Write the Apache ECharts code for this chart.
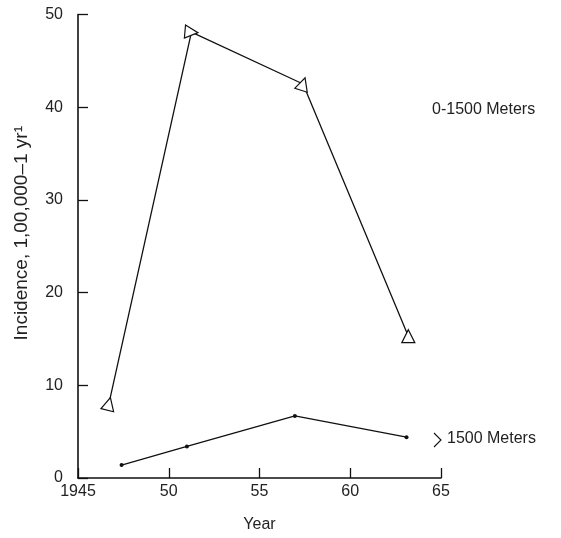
<!DOCTYPE html>
<html>
<head>
<meta charset="utf-8">
<script src="https://cdn.jsdelivr.net/npm/echarts@6/dist/echarts.min.js"></script>
<style>
  html, body { margin: 0; padding: 0; background: #fff; }
  #chart { width: 561px; height: 538px; }
</style>
</head>
<body>
<div id="chart"></div>
<script>
// Data
const lowYears = [1946.7, 1951.25, 1957.4, 1963.2];
const lowValues = [8.0, 48.1, 42.5, 15.3];
const highYears = [1947.4, 1951.0, 1956.95, 1963.1];
const highValues = [1.4, 3.4, 6.7, 4.4];
const xTicks = [1945, 1950, 1955, 1960, 1965];
const yTicks = [0, 10, 20, 30, 40, 50];
const lowLabel = '0-1500 Meters';
const highLabel = '1500 Meters';

const markerRotate = [-14, -95, -18, 0]; // style only

const chart = echarts.init(document.getElementById('chart'), null, { renderer: 'canvas' });
const textColor = '#222';
const lineColor = '#111';
const font = 'Liberation Sans, Arial, Helvetica, sans-serif';

const option = {
  animation: false,
  backgroundColor: '#fff',
  grid: { left: 78, right: 120, top: 14.5, bottom: 59, containLabel: false },
  xAxis: {
    type: 'value', min: xTicks[0], max: xTicks[xTicks.length - 1], interval: 5,
    name: 'Year', nameLocation: 'middle', nameGap: 39,
    nameTextStyle: { color: textColor, fontSize: 16, fontFamily: font },
    axisLine: { onZero: false, lineStyle: { color: lineColor, width: 1.6 } },
    axisTick: { inside: true, length: 10, lineStyle: { color: lineColor, width: 1.3 } },
    axisLabel: {
      color: textColor, fontSize: 16, fontFamily: font, margin: 6,
      formatter: v => (v === xTicks[0] ? String(v) : String(v).slice(2))
    },
    splitLine: { show: false }
  },
  yAxis: {
    type: 'value', min: yTicks[0], max: yTicks[yTicks.length - 1], interval: 10,
    name: 'Incidence, 1,00,000\u20131 yr\u00B9', nameLocation: 'middle', nameGap: 47,
    nameTextStyle: { color: textColor, fontSize: 19, fontFamily: font, padding: [0, 0, 0, 26] },
    axisLine: { show: true, lineStyle: { color: lineColor, width: 1.6 } },
    axisTick: { show: true, inside: true, length: 10, lineStyle: { color: lineColor, width: 1.3 } },
    axisLabel: { color: textColor, fontSize: 16, fontFamily: font, margin: 15 },
    splitLine: { show: false }
  },
  series: [
    {
      type: 'line',
      data: lowYears.map((x, i) => [x, lowValues[i]]),
      symbol: 'triangle', symbolSize: 13,
      symbolRotate: (v, p) => markerRotate[p.dataIndex],
      showAllSymbol: true,
      lineStyle: { color: lineColor, width: 1.3 },
      itemStyle: { color: '#fff', borderColor: lineColor, borderWidth: 1.2 },
      z: 3
    },
    {
      type: 'line',
      data: highYears.map((x, i) => [x, highValues[i]]),
      symbol: 'circle', symbolSize: 4,
      lineStyle: { color: lineColor, width: 1.3 },
      itemStyle: { color: lineColor, borderWidth: 0 },
      z: 3
    }
  ],
  graphic: [
    { type: 'text', left: 432, top: 102, style: { text: lowLabel, fill: textColor, font: '16px ' + font } },
    { type: 'polyline', shape: { points: [[434, 433], [441, 440], [434, 447]] }, style: { stroke: lineColor, lineWidth: 1.1, fill: null } },
    { type: 'text', left: 447, top: 431, style: { text: highLabel, fill: textColor, font: '16px ' + font } }
  ]
};
chart.setOption(option);
</script>
</body>
</html>
